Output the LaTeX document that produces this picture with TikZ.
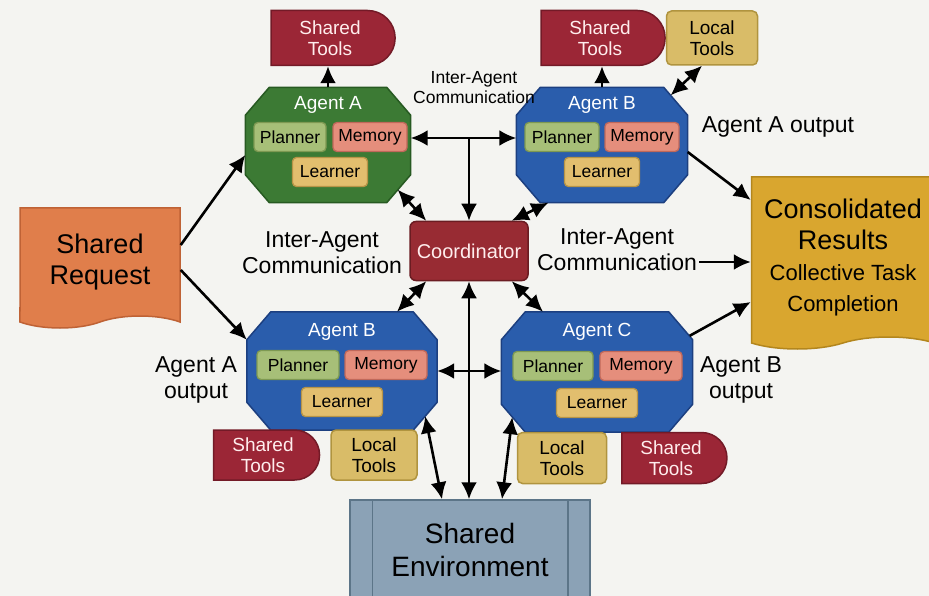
\documentclass[tikz,border=0pt]{standalone}
\usepackage{fontspec}
\setmainfont{Liberation Sans}
\usetikzlibrary{shapes.misc,shapes.symbols,arrows.meta,calc}

\definecolor{bgcol}{HTML}{F4F4F1}
\definecolor{agreen}{HTML}{3C7A34}
\definecolor{agreend}{HTML}{275A22}
\definecolor{ablue}{HTML}{2A5DAC}
\definecolor{ablued}{HTML}{1C3F80}
\definecolor{planfill}{HTML}{A7BF78}
\definecolor{plandraw}{HTML}{7E9952}
\definecolor{memfill}{HTML}{E58E7C}
\definecolor{memdraw}{HTML}{C0685A}
\definecolor{learnfill}{HTML}{E2BE6E}
\definecolor{learndraw}{HTML}{B79447}
\definecolor{toolred}{HTML}{9B2636}
\definecolor{toolredd}{HTML}{731A27}
\definecolor{localfill}{HTML}{D9BC68}
\definecolor{localdraw}{HTML}{B0943F}
\definecolor{coordfill}{HTML}{982B33}
\definecolor{coorddraw}{HTML}{6B1C22}
\definecolor{reqfill}{HTML}{E07E4B}
\definecolor{reqdraw}{HTML}{BF6235}
\definecolor{consfill}{HTML}{D9A62F}
\definecolor{consdraw}{HTML}{B3861D}
\definecolor{envfill}{HTML}{8BA2B6}
\definecolor{envdraw}{HTML}{5C7588}

% octagon round an (empty) agent node
\newcommand{\agentshape}[3]{%
  \filldraw[fill=#2, draw=#3, line width=1.5pt]
    ([xshift=24pt]#1.north west) -- ([xshift=-24pt]#1.north east)
    -- ([yshift=-28pt]#1.north east) -- ([yshift=28pt]#1.south east)
    -- ([xshift=-24pt]#1.south east) -- ([xshift=24pt]#1.south west)
    -- ([yshift=28pt]#1.south west) -- ([yshift=-28pt]#1.north west) -- cycle;}

\tikzset{
  conn/.style={line width=2.6pt, draw=black},
  agentbox/.style={inner sep=0pt},
  agname/.style={text=white, font=\fontsize{19}{21}\selectfont, inner sep=1pt},
  subbox/.style={rounded corners=4pt, line width=1.3pt, minimum height=29,
    inner sep=1pt, font=\fontsize{17.5}{19}\selectfont},
  sharedtool/.style={rounded rectangle, rounded rectangle left arc=none,
    fill=toolred, draw=toolredd, line width=1.5pt, text=white!93!red,
    align=center, inner sep=1pt, font=\fontsize{19}{21}\selectfont},
  localtool/.style={rounded corners=5pt, fill=localfill, draw=localdraw,
    line width=1.5pt, align=center, inner sep=1pt,
    font=\fontsize{19}{21}\selectfont},
  docbox/.style={tape, tape bend top=none, tape bend bottom=in and out,
    tape bend height=12pt, line width=1.5pt, align=center, inner sep=1pt},
  lbl/.style={align=center, inner sep=2pt, font=\fontsize{23}{26}\selectfont}
}

\begin{document}
\begin{tikzpicture}[x=1pt, y=-1pt, >={Latex[length=17pt,width=16pt]}]
\clip (0,0) rectangle (929,596);
\fill[bgcol] (0,0) rectangle (929,596);

% request and results
\node[docbox, fill=reqfill, draw=reqdraw, minimum width=160, minimum height=120,
  font=\fontsize{27}{31}\selectfont] (req) at (100,262) {Shared\\Request};
\node[docbox, fill=consfill, draw=consdraw, minimum width=183, minimum height=172,
  font=\fontsize{27}{31}\selectfont] (cons) at (843,257)
  {Consolidated\\Results\\{\fontsize{22}{26}\selectfont Collective Task}\\{\fontsize{22}{26}\selectfont Completion}};

% agents
\begin{scope}[shift={(328,145)}]
  \node[agentbox, minimum width=165, minimum height=115] (agA) at (0,0) {};
  \agentshape{agA}{agreen}{agreend}
  \node[agname] (agAname) at (0,-40) {Agent A};
  \node[subbox, fill=planfill, draw=plandraw, minimum width=72] (agAplan) at (-38,-8) {Planner};
  \node[subbox, fill=memfill, draw=memdraw, minimum width=74] (agAmem) at (42,-8) {Memory};
  \node[subbox, fill=learnfill, draw=learndraw, minimum width=75] (agAlearn) at (2,27) {Learner};
\end{scope}

\begin{scope}[shift={(602,145)}]
  \node[agentbox, minimum width=171, minimum height=115] (agB) at (0,0) {};
  \agentshape{agB}{ablue}{ablued}
  \node[agname] (agBname) at (0,-40) {Agent B};
  \node[subbox, fill=planfill, draw=plandraw, minimum width=74] (agBplan) at (-40,-8) {Planner};
  \node[subbox, fill=memfill, draw=memdraw, minimum width=74] (agBmem) at (40,-8) {Memory};
  \node[subbox, fill=learnfill, draw=learndraw, minimum width=75] (agBlearn) at (0,27) {Learner};
\end{scope}

\begin{scope}[shift={(342,371)}]
  \node[agentbox, minimum width=190, minimum height=118] (agBl) at (0,0) {};
  \agentshape{agBl}{ablue}{ablued}
  \node[agname] (agBlname) at (0,-39) {Agent B};
  \node[subbox, fill=planfill, draw=plandraw, minimum width=82] (agBlplan) at (-44,-6) {Planner};
  \node[subbox, fill=memfill, draw=memdraw, minimum width=82] (agBlmem) at (44,-6) {Memory};
  \node[subbox, fill=learnfill, draw=learndraw, minimum width=81] (agBllearn) at (0,31) {Learner};
\end{scope}

\begin{scope}[shift={(597,372)}]
  \node[agentbox, minimum width=191, minimum height=120] (agC) at (0,0) {};
  \agentshape{agC}{ablue}{ablued}
  \node[agname] (agCname) at (0,-40) {Agent C};
  \node[subbox, fill=planfill, draw=plandraw, minimum width=80] (agCplan) at (-44,-6) {Planner};
  \node[subbox, fill=memfill, draw=memdraw, minimum width=82] (agCmem) at (44,-6) {Memory};
  \node[subbox, fill=learnfill, draw=learndraw, minimum width=81] (agClearn) at (0,31) {Learner};
\end{scope}

\node[rounded corners=6pt, fill=coordfill, draw=coorddraw, line width=1.5pt, text=white!93!red,
  minimum width=118, minimum height=59, font=\fontsize{20}{22}\selectfont] (coord) at (469,251) {Coordinator};

\node[fill=envfill, draw=envdraw, line width=1.5pt, minimum width=240, minimum height=100,
  align=center, font=\fontsize{28}{33}\selectfont] (env) at (470,550) {Shared\\Environment};
\draw[envdraw, line width=1.5pt] ([xshift=23pt]env.north west) -- ([xshift=23pt]env.south west);
\draw[envdraw, line width=1.5pt] ([xshift=-23pt]env.north east) -- ([xshift=-23pt]env.south east);

% tools
\node[sharedtool, minimum width=126, minimum height=55] (tA) at (330,38) {Shared\\Tools};
\node[sharedtool, minimum width=126, minimum height=55] (tB) at (600,38) {Shared\\Tools};
\node[localtool, minimum width=91, minimum height=54] (lB) at (712,38) {Local\\Tools};
\node[sharedtool, minimum width=108, minimum height=50] (tBl) at (263,455) {Shared\\Tools};
\node[localtool, minimum width=86, minimum height=50] (lBl) at (374,455) {Local\\Tools};
\node[localtool, minimum width=89, minimum height=51] (lC) at (562,458) {Local\\Tools};
\node[sharedtool, minimum width=107, minimum height=51] (tC) at (671,458) {Shared\\Tools};

% labels
\node[lbl, font=\fontsize{17.5}{20}\selectfont] (icT) at (474,88) {Inter-Agent\\Communication};
\node[lbl] (icL) at (322,253) {Inter-Agent\\Communication};
\node[lbl] (icR) at (617,250) {Inter-Agent\\Communication};
\node[lbl] (outA) at (778,127) {Agent A output};
\node[lbl] (outAl) at (196,380) {Agent A\\output};
\node[lbl] (outB) at (741,380) {Agent B\\output};

% connectors
\draw[conn, ->] ([yshift=17pt]req.east) -- ([yshift=-10pt]agA.west);
\draw[conn, ->] ([yshift=-8pt]req.east) -- ([yshift=-28pt]agBl.north west);
\draw[conn, ->] (agA.north) -- (agA.north |- tA.south);
\draw[conn, ->] (agB.north) -- (agB.north |- tB.south);
\draw[conn, <->] ([xshift=-17pt,yshift=-8pt]agB.north east) -- ([xshift=-10pt]lB.south);
\draw[conn, <->] ([yshift=7pt]agA.east) -- ([yshift=7pt]agA.east -| agB.west);
\draw[conn, ->] ([yshift=7pt]agA.east -| coord.north) -- (coord.north);
\draw[conn, <->] ([xshift=-13pt,yshift=13pt]agA.south east) -- ([xshift=17pt]coord.north west);
\draw[conn, <->] ([xshift=32pt]agB.south west) -- ([xshift=-17pt]coord.north east);
\draw[conn, <->] ([xshift=17pt]coord.south west) -- ([xshift=55pt]agBl.north);
\draw[conn, <->] ([xshift=-17pt]coord.south east) -- ([xshift=-54pt]agC.north);
\draw[conn, ->] ([yshift=-7pt]agB.east) -- ([yshift=57pt]cons.west);
\draw[conn, ->] ([yshift=-12pt]icR.east) -- ([yshift=-12pt]icR.east -| cons.west);
\draw[conn, ->] ([xshift=-3pt,yshift=-24pt]agC.north east) -- ([yshift=-45pt]cons.west);
\draw[conn, <->] (coord.south) -- (coord.south |- env.north);
\draw[conn, <->] (agBl.east) -- (agBl.east -| agC.west);
\draw[conn, <->] ([xshift=-12pt,yshift=14pt]agBl.south east) -- ([xshift=-28pt]env.north);
\draw[conn, <->] ([xshift=11pt,yshift=15pt]agC.south west) -- ([xshift=32pt]env.north);
\end{tikzpicture}
\end{document}
